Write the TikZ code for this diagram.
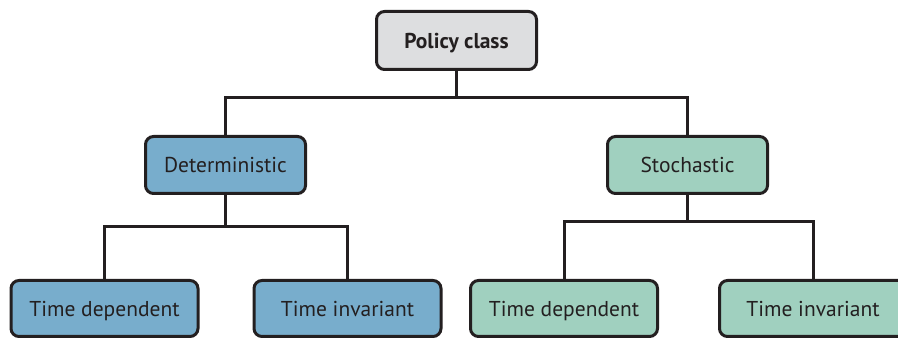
\documentclass[tikz,border=0pt]{standalone}
\usepackage{fontspec}
\setmainfont{PT Sans}
\definecolor{boxgray}{RGB}{221,222,224}
\definecolor{boxblue}{RGB}{120,173,204}
\definecolor{boxgreen}{RGB}{160,208,191}
\definecolor{lineblk}{RGB}{35,31,32}
\begin{document}
\begin{tikzpicture}[x=1pt,y=-1pt,
  box/.style={draw=lineblk,line width=3pt,rounded corners=8pt,inner sep=0pt,
    text=lineblk,text height=19pt,text depth=3pt,font=\fontsize{21.5}{25}\selectfont},
  topbox/.style={box,fill=boxgray,minimum width=160pt,minimum height=58pt,font=\fontsize{21.5}{25}\selectfont\bfseries},
  midbox/.style={box,minimum width=160pt,minimum height=57pt},
  lowbox/.style={box,minimum width=187pt,minimum height=56pt},
  conn/.style={draw=lineblk,line width=3pt}]
\useasboundingbox (0,0) rectangle (898,339);
\clip (0,0) rectangle (898,339);
\node[topbox] (pc) at (456.5,40.5) {Policy class};
\node[midbox,fill=boxblue] (det) at (225.5,165) {Deterministic};
\node[midbox,fill=boxgreen] (sto) at (687.5,165) {Stochastic};
\node[lowbox,fill=boxblue] (td1) at (104.5,308.5) {Time dependent};
\node[lowbox,fill=boxblue] (ti1) at (347.5,308.5) {Time invariant};
\node[lowbox,fill=boxgreen] (td2) at (564,308.5) {Time dependent};
\node[lowbox,fill=boxgreen] (ti2) at (813,308.5) {Time invariant};
\coordinate (j1) at (456.5,98);
\coordinate (j2) at (225.5,227);
\coordinate (j3) at (687.5,222);
\draw[conn] (pc.south) -- (j1);
\draw[conn] (det.north) |- (j1) -| (sto.north);
\draw[conn] (det.south) -- (j2);
\draw[conn] (td1.north) |- (j2) -| (ti1.north);
\draw[conn] (sto.south) -- (j3);
\draw[conn] (td2.north) |- (j3) -| (ti2.north);
\end{tikzpicture}
\end{document}
